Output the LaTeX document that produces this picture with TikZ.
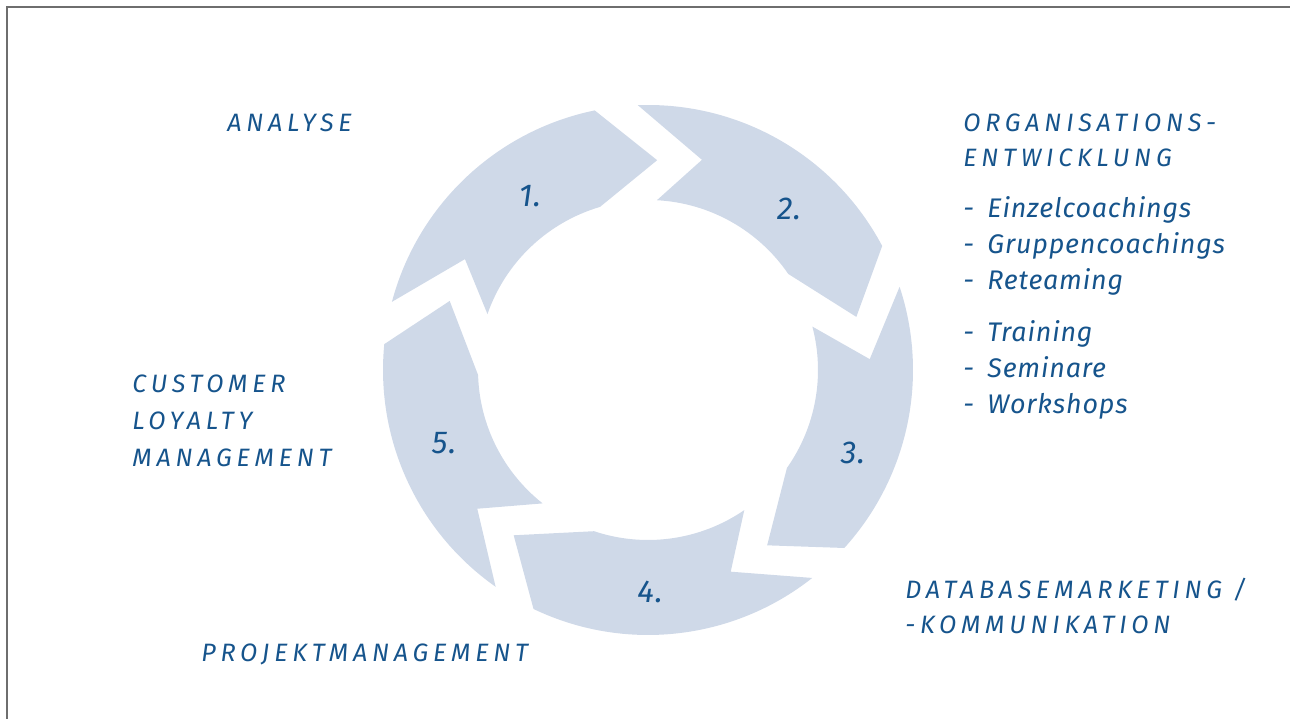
\documentclass[tikz,border=0pt]{standalone}
\usepackage{fontspec}
\newfontfamily\hand{Fira Sans}[LetterSpace=3]
\newfontfamily\handcaps{Fira Sans}[LetterSpace=19]
\usetikzlibrary{calc}
\definecolor{segfill}{RGB}{207,217,232}
\definecolor{txtblue}{RGB}{22,84,140}
\definecolor{framegray}{RGB}{110,110,110}
\begin{document}
\begin{tikzpicture}[
  seg/.style={fill=segfill},
  caps/.style={anchor=base west, inner sep=0pt, text=txtblue, font=\handcaps\itshape\fontsize{14.3}{16}\selectfont},
  item/.style={anchor=base west, inner sep=0pt, text=txtblue, font=\hand\itshape\fontsize{15.3}{17}\selectfont},
  num/.style={inner sep=0pt, text=txtblue, font=\hand\itshape\fontsize{18}{19}\selectfont}
]
\useasboundingbox (0,0) rectangle (25.8,14.38);
\draw[framegray, line width=0.85pt] (0.14,0) -- (0.14,14.24) -- (25.8,14.24);

\coordinate (c) at (12.96,6.98);
\def\Ro{5.3}
\def\Ri{3.4}
% 1
\fill[seg] ([shift={(165.1:\Ro)}]c) arc[start angle=165.1,end angle=101.6,radius=\Ro]
  -- ([shift={(87.5:4.20)}]c) -- ([shift={(106.4:\Ri)}]c)
  arc[start angle=106.4,end angle=160.8,radius=\Ri]
  -- ([shift={(148.8:4.28)}]c) -- cycle;
% 2
\fill[seg] ([shift={(92.2:\Ro)}]c) arc[start angle=92.2,end angle=27.9,radius=\Ro]
  -- ([shift={(14.3:4.30)}]c) -- ([shift={(34.4:\Ri)}]c)
  arc[start angle=34.4,end angle=87.0,radius=\Ri]
  -- ([shift={(75.6:4.34)}]c) -- cycle;
% 3
\fill[seg] ([shift={(18.3:\Ro)}]c) arc[start angle=18.3,end angle=-42.2,radius=\Ro]
  -- ([shift={(-55.8:4.24)}]c) -- ([shift={(-35.2:\Ri)}]c)
  arc[start angle=-35.2,end angle=14.8,radius=\Ri]
  -- ([shift={(2.8:4.44)}]c) -- cycle;
% 4
\fill[seg] ([shift={(-51.7:\Ro)}]c) arc[start angle=-51.7,end angle=-115.6,radius=\Ro]
  -- ([shift={(-129.1:4.26)}]c) -- ([shift={(-108.5:\Ri)}]c)
  arc[start angle=-108.5,end angle=-55.5,radius=\Ri]
  -- ([shift={(-67.7:4.36)}]c) -- cycle;
% 5
\fill[seg] ([shift={(-125.1:\Ro)}]c) arc[start angle=-125.1,end angle=-185.6,radius=\Ro]
  -- ([shift={(160.8:4.20)}]c) -- ([shift={(-178.3:\Ri)}]c)
  arc[start angle=-178.3,end angle=-128.3,radius=\Ri]
  -- ([shift={(-140.9:4.40)}]c) -- cycle;

\node[num] (n1) at (10.60,10.46) {1.};
\node[num] (n2) at (15.78,10.20) {2.};
\node[num] (n3) at (17.06,5.32) {3.};
\node[num] (n4) at (13.00,2.54) {4.};
\node[num] (n5) at (8.88,5.52) {5.};

\node[caps] (analyse) at (4.54,11.74) {ANALYSE};
\node[caps] (org1) at (19.26,11.74) {ORGANISATIONS-};
\node[caps] (org2) at (19.26,11.04) {ENTWICKLUNG};
\node[item] (i1) at (19.26,10.02) {-\hspace{0.5em}Einzelcoachings};
\node[item] (i2) at (19.26,9.30) {-\hspace{0.5em}Gruppencoachings};
\node[item] (i3) at (19.26,8.58) {-\hspace{0.5em}Reteaming};
\node[item] (i4) at (19.26,7.54) {-\hspace{0.5em}Training};
\node[item] (i5) at (19.26,6.82) {-\hspace{0.5em}Seminare};
\node[item] (i6) at (19.26,6.10) {-\hspace{0.5em}Workshops};
\node[caps] (cust1) at (2.64,6.52) {CUSTOMER};
\node[caps] (cust2) at (2.64,5.78) {LOYALTY};
\node[caps] (cust3) at (2.64,5.04) {MANAGEMENT};
\node[caps] (db1) at (18.10,2.40) {DATABASEMARKETING /};
\node[caps] (db2) at (18.10,1.70) {-KOMMUNIKATION};
\node[caps] (proj) at (4.02,1.14) {PROJEKTMANAGEMENT};
\end{tikzpicture}
\end{document}
